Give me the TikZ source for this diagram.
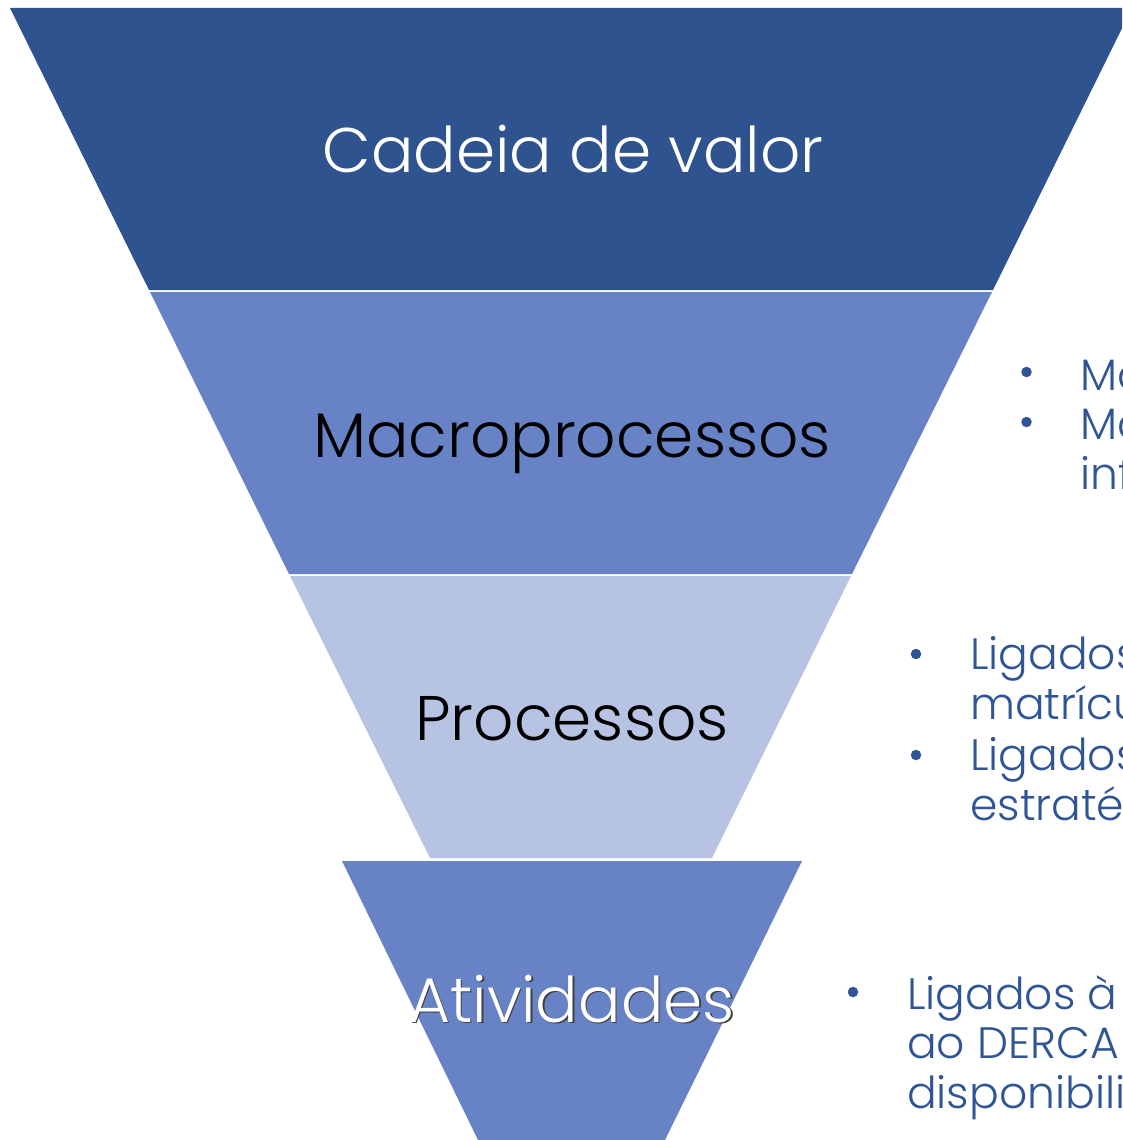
\documentclass[tikz,border=0pt]{standalone}
\usepackage{fontspec}
\setmainfont{Poppins}[UprightFont=* Light]
\usetikzlibrary{positioning}
\definecolor{funnelDark}{RGB}{47,83,143}
\definecolor{funnelMid}{RGB}{103,131,197}
\definecolor{funnelLight}{RGB}{183,195,227}
\definecolor{noteBlue}{RGB}{47,85,151}
\tikzset{
    band/.style={fill=#1, draw=none},
    title/.style={font=\fontsize{63}{80}\selectfont, anchor=base, inner sep=0pt},
    dot/.style={circle, fill=noteBlue, minimum size=10.5pt, inner sep=0pt},
    note/.style={font=\fontsize{44}{49.5}\selectfont, text=noteBlue, anchor=base west, align=left, inner sep=0pt}
}
\begin{document}
\begin{tikzpicture}[x=1pt, y=-1pt]
    \useasboundingbox (0,0) rectangle (1122,1140);
    \clip (0,0) rectangle (1122,1140);
    % funnel corners
    \coordinate (b1) at (10,8);
    \coordinate (b2) at (1132,8);
    \coordinate (b3) at (993,290);
    \coordinate (b4) at (149,290);
    \coordinate (b5) at (150,292);
    \coordinate (b6) at (992,292);
    \coordinate (b7) at (852,574);
    \coordinate (b8) at (289,574);
    \coordinate (b9) at (290,576);
    \coordinate (b10) at (851,576);
    \coordinate (b11) at (712,858);
    \coordinate (b12) at (430,858);
    \coordinate (b13) at (342,861);
    \coordinate (b14) at (802,861);
    \coordinate (b15) at (665,1140);
    \coordinate (b16) at (478,1140);
    \fill[band=funnelDark] (b1) -- (b2) -- (b3) -- (b4) -- cycle;
    \fill[band=funnelMid] (b5) -- (b6) -- (b7) -- (b8) -- cycle;
    \fill[band=funnelLight] (b9) -- (b10) -- (b11) -- (b12) -- cycle;
    \fill[band=funnelMid] (b13) -- (b14) -- (b15) -- (b16) -- cycle;
    % level names
    \node[title, text=white] (cadeia) at (573,172) {Cadeia de valor};
    \node[title] (macro) at (572,457) {Macroprocessos};
    \node[title] (proc) at (572,740) {Processos};
    \node[title, text=black!75] at (573.5,1023.5) {Atividades};
    \node[title, text=white] (ativ) at (572,1022) {Atividades};
    % notes on the right (anchored at the last line)
    \node[dot] (d1) at (1026.5,372) {};
    \node[dot] (d2) at (1026.5,422) {};
    \node[note] (n1) at (1080,390) {Ma};
    \node[note] (n2) at (1080,489) {Ma\\inf};
    \node[dot] (d3) at (916,654) {};
    \node[dot] (d4) at (916,755) {};
    \node[note] (n3) at (970,719) {Ligados\\matrícu};
    \node[note] (n4) at (970,820) {Ligados\\estratég};
    \node[dot] (d5) at (853,992) {};
    \node[note] (n5) at (907,1108) {Ligados à r\\ao DERCA\\disponibilid};
\end{tikzpicture}
\end{document}
